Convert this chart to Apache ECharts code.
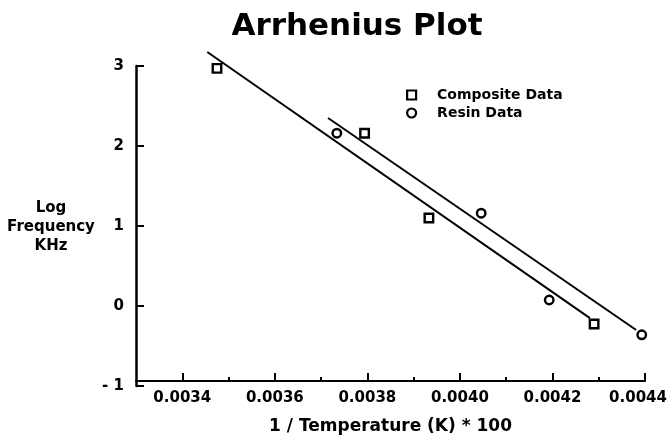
<!DOCTYPE html>
<html><head><meta charset="utf-8">
<script src="https://cdn.jsdelivr.net/npm/echarts@6/dist/echarts.min.js"></script>
<style>html,body{margin:0;padding:0;background:#fff}#c{width:672px;height:435px}</style>
</head><body><div id="c"></div>
<script>
// ---- data ----
const compositeX = [0.003475, 0.003794, 0.003933, 0.00429];
const compositeY = [2.97, 2.16, 1.10, -0.225];
const resinX = [0.003734, 0.004046, 0.004193, 0.004393];
const resinY = [2.16, 1.16, 0.075, -0.36];
const fitAX = [0.003454, 0.004281];
const fitAY = [3.175, -0.151];
const fitBX = [0.003715, 0.004381];
const fitBY = [2.35, -0.30];
const xMajorTicks = [0.0034, 0.0036, 0.0038, 0.0040, 0.0042, 0.0044];
const xMinorTicks = [0.0035, 0.0037, 0.0039, 0.0041, 0.0043];
const yTicks = [-1, 0, 1, 2, 3];
const seriesNames = ['Composite Data', 'Resin Data'];
const titleText = 'Arrhenius Plot';
const xName = '1 / Temperature (K) * 100';
const yName = 'Log\nFrequency\nKHz';

// ---- chart ----
const zip = (a, b) => a.map((v, i) => [v, b[i]]);
const FONT = 'DejaVu Sans';
const txt = (size, extra) => Object.assign({fontFamily: FONT, fontWeight: 'bold', fontSize: size, color: '#000'}, extra || {});
const chart = echarts.init(document.getElementById('c'), null, {renderer: 'canvas'});
const markerStyle = {color: '#fff', borderColor: '#000', borderWidth: 2.4, opacity: 1};
const xLast = xMajorTicks[xMajorTicks.length - 1];
const xBase = {
  type: 'value', min: 0.0033, max: xLast, position: 'bottom', offset: -5,
  splitLine: {show: false}
};
chart.setOption({
  animation: false,
  backgroundColor: '#fff',
  title: [
    {text: titleText, left: 357, top: 11, textAlign: 'center', padding: 0, textStyle: txt(31)},
    {text: yName, left: 51, top: 199, textAlign: 'center', padding: 0, textStyle: txt(15, {lineHeight: 19})}
  ],
  legend: {
    orient: 'vertical', left: 406, top: 88, padding: 0,
    itemWidth: 9, itemHeight: 9, itemGap: 4,
    data: [{name: seriesNames[0], icon: 'rect'}, {name: seriesNames[1], icon: 'circle'}],
    itemStyle: {color: '#fff', borderColor: '#000', borderWidth: 2.2},
    textStyle: txt(14, {padding: [0, 0, 0, 16]})
  },
  grid: {left: 136, right: 27, top: 66, bottom: 49, containLabel: false, outerBoundsMode: 'none'},
  xAxis: [
    Object.assign({}, xBase, {
      axisLine: {onZero: false, lineStyle: {color: '#000', width: 2}},
      axisTick: {inside: true, length: 8, customValues: xMajorTicks, lineStyle: {color: '#000', width: 2}},
      axisLabel: {
        customValues: xMajorTicks, margin: 10,
        formatter: v => Math.abs(v - xLast) < 1e-9 ? '{last|' + v.toFixed(4) + '}' : v.toFixed(4),
        rich: {last: txt(15, {padding: [0, 14, 0, 0]})},
        ...txt(15)
      },
      name: xName, nameLocation: 'middle', nameGap: 37, nameTextStyle: txt(17)
    }),
    Object.assign({}, xBase, {
      axisLine: {show: false, onZero: false},
      axisTick: {inside: true, length: 4, customValues: xMinorTicks, lineStyle: {color: '#000', width: 2}},
      axisLabel: {show: false}
    })
  ],
  yAxis: {
    type: 'value', min: yTicks[0], max: yTicks[yTicks.length - 1], interval: 1,
    splitLine: {show: false},
    axisLine: {onZero: false, lineStyle: {color: '#000', width: 2.5}},
    axisTick: {inside: true, length: 8, lineStyle: {color: '#000', width: 2}},
    axisLabel: {margin: 12, formatter: v => v < 0 ? '- ' + (-v) : String(v), ...txt(15)}
  },
  series: [
    {name: seriesNames[0], type: 'scatter', symbol: 'rect', symbolSize: 8.5, data: zip(compositeX, compositeY), itemStyle: markerStyle, z: 3, clip: false},
    {name: seriesNames[1], type: 'scatter', symbol: 'circle', symbolSize: 8.5, data: zip(resinX, resinY), itemStyle: markerStyle, z: 3, clip: false},
    {type: 'line', data: zip(fitAX, fitAY), symbol: 'none', silent: true, clip: false, lineStyle: {color: '#000', width: 2}, z: 2},
    {type: 'line', data: zip(fitBX, fitBY), symbol: 'none', silent: true, clip: false, lineStyle: {color: '#000', width: 2}, z: 2}
  ]
});
</script>
</body></html>
